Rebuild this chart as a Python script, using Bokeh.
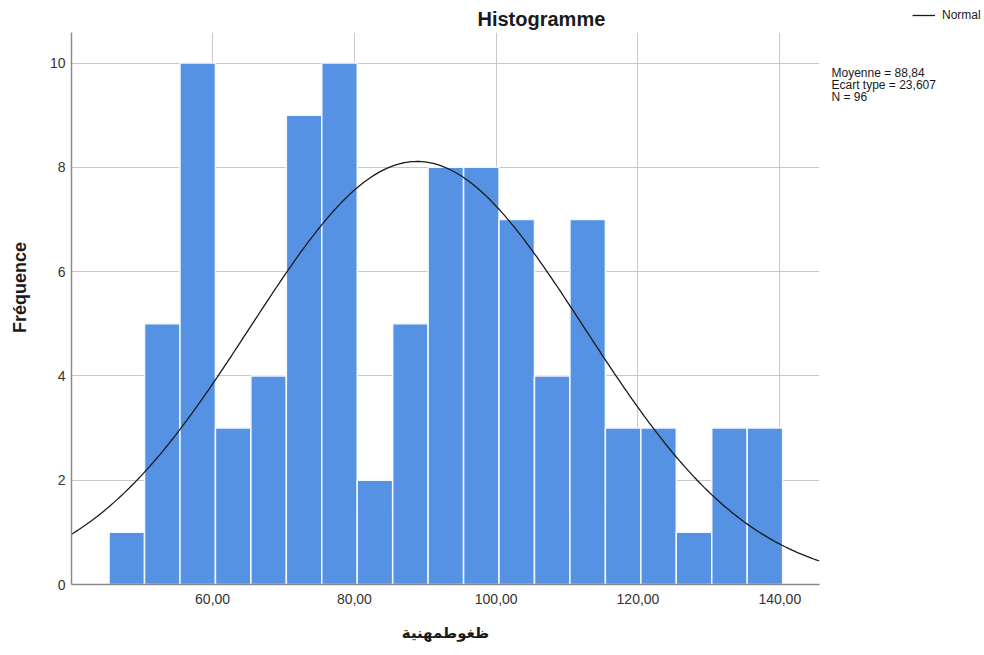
import numpy as np
from bokeh.plotting import figure
from bokeh.layouts import row, column
from bokeh.models import Range1d, Label, Legend, LegendItem, FixedTicker, ColumnDataSource
from bokeh.embed import file_html
from bokeh.resources import INLINE

# ---- data ----
bin_start = 45.4
bin_width = 5.0
counts = [1, 5, 10, 3, 4, 9, 10, 2, 5, 8, 8, 7, 4, 7, 3, 3, 1, 3, 3]
x_ticks = [60, 80, 100, 120, 140]
x_tick_labels = ["60,00", "80,00", "100,00", "120,00", "140,00"]
y_ticks = [0, 2, 4, 6, 8, 10]
mean_val = 88.84
sd_val = 23.607
n_val = 96
stats_lines = ["Moyenne = 88,84", "Ecart type = 23,607", "N = 96"]

FONT = "Liberation Sans"
DARK = "#1a1a1a"

lefts = [bin_start + i * bin_width for i in range(len(counts))]
rights = [l + bin_width for l in lefts]

# left strip holding the y-axis title (page-pixel coordinates)
lstrip = figure(width=40, height=655, output_backend="svg", toolbar_location=None,
                x_range=Range1d(0, 40), y_range=Range1d(655, 0),
                min_border=0, x_axis_location=None, y_axis_location=None)
lstrip.outline_line_color = None
lstrip.grid.visible = False
lstrip.add_layout(Label(x=19, y=287, text="Fréquence", angle=np.pi / 2,
                        text_font=FONT, text_font_size="18px", text_font_style="bold",
                        text_align="center", text_baseline="middle", text_color=DARK))

p = figure(width=780, height=655, output_backend="svg", toolbar_location=None,
           x_range=Range1d(40.1, 145.6), y_range=Range1d(0, 10.585),
           min_border_left=31, min_border_right=1, min_border_top=32, min_border_bottom=71,
           title="Histogramme")
p.outline_line_color = None
p.title.text_font = FONT
p.title.text_font_size = "20px"
p.title.text_font_style = "bold"
p.title.text_color = DARK
p.title.align = "left"
p.title.offset = 406
p.title.standoff = 6

src = ColumnDataSource(dict(left=lefts, right=rights, top=counts, bottom=[0] * len(counts)))
p.quad(left="left", right="right", top="top", bottom="bottom", source=src,
       fill_color="#5592e3", line_color="#f4f8fe", line_width=1.5)

# normal curve from the stated mean / sd / N
xs = np.linspace(40.1, 145.6, 300)
ys = n_val * bin_width / (sd_val * np.sqrt(2 * np.pi)) * np.exp(-0.5 * ((xs - mean_val) / sd_val) ** 2)
p.line(xs, ys, line_color=DARK, line_width=1.3)

# axes
p.xaxis.ticker = FixedTicker(ticks=x_ticks)
p.xaxis.major_label_overrides = {t: l for t, l in zip(x_ticks, x_tick_labels)}
p.yaxis.ticker = FixedTicker(ticks=y_ticks)
for ax in (p.xaxis, p.yaxis):
    ax.major_tick_in = 0
    ax.major_tick_out = 0
    ax.minor_tick_in = 0
    ax.minor_tick_out = 0
    ax.axis_line_color = "#8a8a8a"
    ax.axis_line_width = 1.5
    ax.major_label_text_font = FONT
    ax.major_label_text_font_size = "14px"
    ax.major_label_text_color = "#333333"
    ax.axis_label_text_color = DARK
    ax.axis_label_text_font_style = "bold"
p.xaxis.major_label_standoff = 9
p.yaxis.major_label_standoff = 6
p.xaxis.axis_label = "ظغوطمهنية"
p.xaxis.axis_label_text_font = "DejaVu Sans"
p.xaxis.axis_label_text_font_size = "15px"
p.xaxis.axis_label_standoff = 17

p.xgrid.ticker = FixedTicker(ticks=x_ticks)
p.ygrid.ticker = FixedTicker(ticks=y_ticks)
p.xgrid.grid_line_color = "#c8c8c8"
p.ygrid.grid_line_color = "#c8c8c8"

# right strip: statistics text and legend (page-pixel coordinates)
side = figure(width=164, height=655, output_backend="svg", toolbar_location=None,
              x_range=Range1d(820, 984), y_range=Range1d(655, 0),
              min_border=0, x_axis_location=None, y_axis_location=None)
side.outline_line_color = None
side.grid.visible = False
stats_y = [72, 84, 96]
for yy, line in zip(stats_y, stats_lines):
    side.add_layout(Label(x=831, y=yy, text=line,
                          text_font=FONT, text_font_size="12px", text_align="left",
                          text_baseline="middle", text_color=DARK))

# legend key: same curve data, lying outside this strip's range (not drawn)
key = side.line(xs, ys, line_color=DARK, line_width=1.3)
legend = Legend(items=[LegendItem(label="Normal", renderers=[key])], location=(92, 633),
                padding=0, spacing=0, margin=0, glyph_width=23, glyph_height=14, label_height=14,
                label_standoff=7, border_line_color=None, background_fill_alpha=0,
                label_text_font=FONT, label_text_font_size="12px", label_text_color=DARK)
side.add_layout(legend)

layout = row(column(lstrip, spacing=0), p, column(side, spacing=0), spacing=0)
open("out.html", "w").write(file_html(layout, INLINE))
